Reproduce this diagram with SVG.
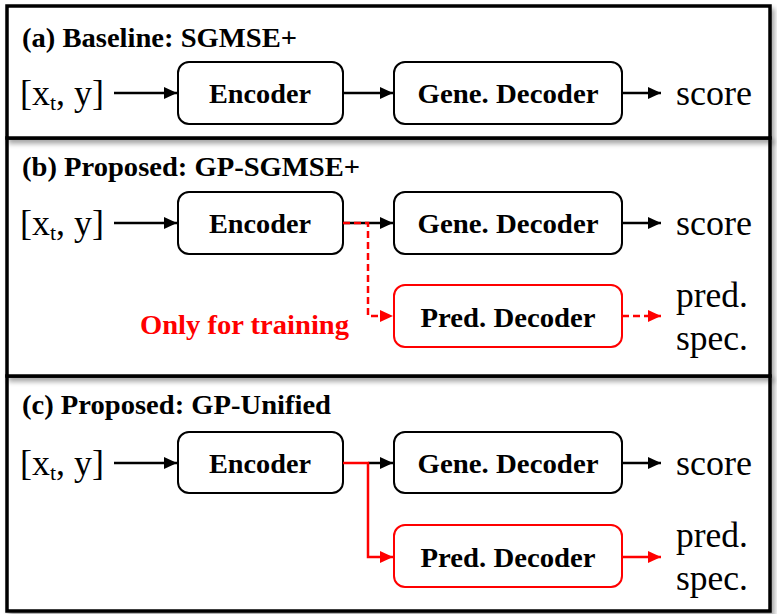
<svg xmlns="http://www.w3.org/2000/svg" width="777" height="614" viewBox="0 0 777 614">
<style>
.panel{fill:#fff;stroke:#000;stroke-width:3.5}
.box{fill:#fff;stroke:#000;stroke-width:2}
.rbox{fill:#fff;stroke:#ff0000;stroke-width:2}
.head{font-family:"Liberation Serif","Times New Roman",serif;font-weight:bold;font-size:27px;fill:#000}
.lbl{font-family:"Liberation Serif","Times New Roman",serif;font-weight:bold;font-size:28px;fill:#000;text-anchor:middle}
.io{font-family:"Liberation Serif","Times New Roman",serif;font-size:36px;fill:#000}
.red{fill:#ff0000}
.k{stroke:#000;stroke-width:2.5;fill:none}
.r{stroke:#ff0000;stroke-width:2.5;fill:none}
.rd{stroke:#ff0000;stroke-width:2.5;fill:none;stroke-dasharray:7 4}
</style>
<defs>
<filter id="sh" x="-5%" y="-5%" width="110%" height="115%">
<feGaussianBlur in="SourceAlpha" stdDeviation="2.5"/>
<feOffset dx="3" dy="4" result="b"/>
<feComponentTransfer><feFuncA type="linear" slope="0.35"/></feComponentTransfer>
<feMerge><feMergeNode/><feMergeNode in="SourceGraphic"/></feMerge>
</filter>
<marker id="ak" markerUnits="userSpaceOnUse" markerWidth="14" markerHeight="12" refX="13" refY="6" orient="auto"><path d="M0,0 L13,6 L0,12 Z" fill="#000"/></marker>
<marker id="ar" markerUnits="userSpaceOnUse" markerWidth="14" markerHeight="12" refX="13" refY="6" orient="auto"><path d="M0,0 L13,6 L0,12 Z" fill="#ff0000"/></marker>
</defs>
<rect width="777" height="614" fill="#fff"/>
<g id="panels">
<rect class="panel" x="7" y="376" width="763" height="235" filter="url(#sh)"/>
<rect class="panel" x="7" y="138" width="763" height="238" filter="url(#sh)"/>
<rect class="panel" x="7" y="6" width="763" height="132" filter="url(#sh)"/>
</g>
<g id="headings">
<text class="head" x="22" y="47" textLength="275" lengthAdjust="spacingAndGlyphs">(a) Baseline: SGMSE+</text>
<text class="head" x="22" y="176" textLength="338" lengthAdjust="spacingAndGlyphs">(b) Proposed: GP-SGMSE+</text>
<text class="head" x="22" y="414" textLength="309" lengthAdjust="spacingAndGlyphs">(c) Proposed: GP-Unified</text>
</g>
<g id="inputs">
<text class="io" x="20" y="105" textLength="84" lengthAdjust="spacingAndGlyphs">[x<tspan font-size="22" dy="5">t</tspan><tspan dy="-5">, y]</tspan></text>
<text class="io" x="20" y="235" textLength="84" lengthAdjust="spacingAndGlyphs">[x<tspan font-size="22" dy="5">t</tspan><tspan dy="-5">, y]</tspan></text>
<text class="io" x="20" y="475" textLength="84" lengthAdjust="spacingAndGlyphs">[x<tspan font-size="22" dy="5">t</tspan><tspan dy="-5">, y]</tspan></text>
</g>
<g id="enc-a"><rect class="box" x="178" y="62" width="165" height="62" rx="11"/><text class="lbl" x="260" y="103" textLength="102" lengthAdjust="spacingAndGlyphs">Encoder</text></g>
<g id="gen-a"><rect class="box" x="394" y="62" width="228" height="62" rx="11"/><text class="lbl" x="508" y="103" textLength="181" lengthAdjust="spacingAndGlyphs">Gene. Decoder</text></g>
<g id="enc-b"><rect class="box" x="178" y="192" width="165" height="62" rx="11"/><text class="lbl" x="260" y="233" textLength="102" lengthAdjust="spacingAndGlyphs">Encoder</text></g>
<g id="gen-b"><rect class="box" x="394" y="192" width="228" height="62" rx="11"/><text class="lbl" x="508" y="233" textLength="181" lengthAdjust="spacingAndGlyphs">Gene. Decoder</text></g>
<g id="pred-b"><rect class="rbox" x="394" y="285" width="228" height="62" rx="11"/><text class="lbl" x="508" y="327" textLength="175" lengthAdjust="spacingAndGlyphs">Pred. Decoder</text></g>
<g id="enc-c"><rect class="box" x="178" y="432" width="165" height="61" rx="11"/><text class="lbl" x="260" y="473" textLength="102" lengthAdjust="spacingAndGlyphs">Encoder</text></g>
<g id="gen-c"><rect class="box" x="394" y="432" width="228" height="61" rx="11"/><text class="lbl" x="508" y="473" textLength="181" lengthAdjust="spacingAndGlyphs">Gene. Decoder</text></g>
<g id="pred-c"><rect class="rbox" x="394" y="525" width="228" height="62" rx="11"/><text class="lbl" x="508" y="567" textLength="175" lengthAdjust="spacingAndGlyphs">Pred. Decoder</text></g>
<g id="outputs">
<text class="io" x="676" y="105" textLength="76" lengthAdjust="spacingAndGlyphs">score</text>
<text class="io" x="676" y="235" textLength="76" lengthAdjust="spacingAndGlyphs">score</text>
<text class="io" x="676" y="307" textLength="72" lengthAdjust="spacingAndGlyphs">pred.</text>
<text class="io" x="676" y="350" textLength="72" lengthAdjust="spacingAndGlyphs">spec.</text>
<text class="io" x="676" y="475" textLength="76" lengthAdjust="spacingAndGlyphs">score</text>
<text class="io" x="676" y="547" textLength="72" lengthAdjust="spacingAndGlyphs">pred.</text>
<text class="io" x="676" y="590" textLength="72" lengthAdjust="spacingAndGlyphs">spec.</text>
</g>
<text class="head red" x="140" y="334" textLength="209" lengthAdjust="spacingAndGlyphs">Only for training</text>
<g id="connectors">
<line class="k" x1="114" y1="93" x2="177" y2="93" marker-end="url(#ak)"/>
<line class="k" x1="343" y1="93" x2="393" y2="93" marker-end="url(#ak)"/>
<line class="k" x1="622" y1="93" x2="661" y2="93" marker-end="url(#ak)"/>
<line class="k" x1="114" y1="223" x2="177" y2="223" marker-end="url(#ak)"/>
<line class="k" x1="343" y1="223" x2="393" y2="223" marker-end="url(#ak)"/>
<line class="k" x1="622" y1="223" x2="661" y2="223" marker-end="url(#ak)"/>
<path class="rd" d="M343,223 H368 V316 H393" marker-end="url(#ar)"/>
<line class="rd" x1="622" y1="316" x2="661" y2="316" marker-end="url(#ar)"/>
<line class="k" x1="114" y1="463" x2="177" y2="463" marker-end="url(#ak)"/>
<line class="k" x1="368" y1="463" x2="393" y2="463" marker-end="url(#ak)"/>
<line class="k" x1="622" y1="463" x2="661" y2="463" marker-end="url(#ak)"/>
<path class="r" d="M343,463 H368 V557 H393" marker-end="url(#ar)"/>
<line class="r" x1="622" y1="557" x2="661" y2="557" marker-end="url(#ar)"/>
</g>
</svg>
